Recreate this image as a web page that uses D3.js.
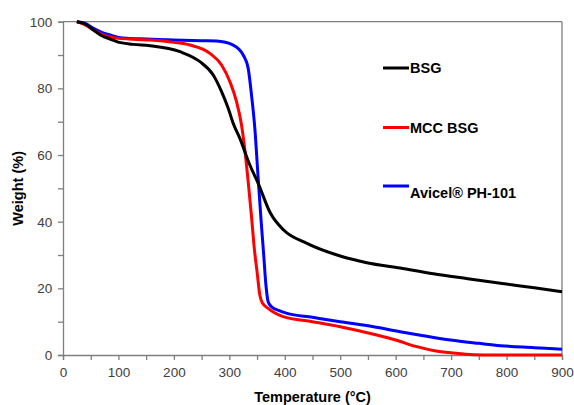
<!DOCTYPE html>
<html>
<head>
<meta charset="utf-8">
<script src="https://cdn.jsdelivr.net/npm/d3@7"></script>
<style>
body{margin:0;background:#fff;}
text{font-family:"Liberation Sans",Arial,sans-serif;}
</style>
</head>
<body>
<svg id="chart" width="574" height="405"></svg>
<script>
// temperature (°C) / weight (%)
var bsgT = [25,40,55,70,85,97,126,157,211,247,271,286,298,307,319,337,352,374,398,440,500,548,608,668,730,789,850,900];
var bsgW = [100,99.3,97.5,95.8,94.8,94,93.2,92.8,91,88,84,79,74,69.5,65,57,51.5,42.6,37.5,33.5,29.7,27.7,26.1,24.4,22.9,21.5,20.2,19];
var mccT = [25,40,55,70,85,100,120,157,200,229,265,286,301,313,322,328,334,340,345,350,355,360,370,380,397,450,500,566,600,638,670,704,740,780,900];
var mccW = [100,99,97.5,96.2,95.4,95,94.8,94.5,93.8,93,90.5,87,82,76,69,61.5,52,41.5,32,25,18,15.5,14,12.8,11.5,10,8.5,6,4.5,2.5,1.3,0.6,0.1,0,0];
var aviT = [25,40,55,70,85,100,115,150,200,250,277,307,325,334,340,346,352,357,362,366,370,376,390,404,450,500,560,608,650,699,750,789,850,900];
var aviW = [100,99.5,98,96.8,96,95.3,95,94.8,94.5,94.3,94.2,93,90,86,78,68,53,41,30,21,16,14.5,13.3,12.5,11.3,10,8.5,7,5.8,4.5,3.5,2.8,2.2,1.7];
var seriesNames = ["BSG","MCC BSG","Avicel® PH-101"];
var seriesColors = ["#000000","#ff0000","#0000ff"];

var svg = d3.select("#chart");
var margin = {top:21.7, left:63, right:12, bottom:50};
var width = 574 - margin.left - margin.right,
    height = 405 - margin.top - margin.bottom;
var axisCol = "#7f7f7f";

var x = d3.scaleLinear().domain([0,900]).range([0,width]);
var y = d3.scaleLinear().domain([0,100]).range([height,0]);

var g = svg.append("g").attr("transform","translate("+margin.left+","+margin.top+")");

// box top and right
g.append("line").attr("x1",0).attr("x2",width).attr("y1",0).attr("y2",0).attr("stroke",axisCol).attr("stroke-width",1.3);
g.append("line").attr("x1",width).attr("x2",width).attr("y1",0).attr("y2",height).attr("stroke",axisCol).attr("stroke-width",1.3);

// major + minor ticks, labels only on majors
var xAxis = d3.axisBottom(x).tickValues(d3.range(0,901,50)).tickSize(5).tickFormat(function(d){return d%100==0?d:"";});
var yAxis = d3.axisLeft(y).tickValues(d3.range(0,101,10)).tickSize(5).tickFormat(function(d){return d%20==0?d:"";});

var gx = g.append("g").attr("transform","translate(0,"+height+")").call(xAxis);
var gy = g.append("g").call(yAxis);
[gx,gy].forEach(function(a){
  a.select(".domain").attr("stroke",axisCol).attr("stroke-width",1.3);
  a.selectAll(".tick line").attr("stroke",axisCol).attr("stroke-width",1.3);
  a.selectAll(".tick text").attr("fill","#404040").style("font-size","13.5px").style("font-family","'Liberation Sans',Arial,sans-serif");
});
gx.selectAll(".tick text").attr("dy","1.05em");
gy.selectAll(".tick text").attr("dx","-0.2em");

var line = d3.line().x(function(d){return x(d[0]);}).y(function(d){return y(d[1]);}).curve(d3.curveMonotoneX);
var series = [d3.zip(bsgT,bsgW), d3.zip(mccT,mccW), d3.zip(aviT,aviW)];
// blue first, then red, black on top
[2,1,0].forEach(function(i){
  g.append("path").datum(series[i]).attr("fill","none").attr("stroke",seriesColors[i])
   .attr("stroke-width",3).attr("stroke-linejoin","round").attr("d",line);
});

// legend
var legY = [68,127.5,186];
var legTextY = [73,132.5,197.5];
seriesNames.forEach(function(n,i){
  svg.append("line").attr("x1",383).attr("x2",409).attr("y1",legY[i]).attr("y2",legY[i])
    .attr("stroke",seriesColors[i]).attr("stroke-width",3);
  svg.append("text").attr("x",410).attr("y",legTextY[i]).text(n)
    .style("font-weight","bold").style("font-size","14.5px").attr("fill","#000");
});

// axis titles
svg.append("text").attr("x",margin.left+width/2).attr("y",402).attr("text-anchor","middle")
  .style("font-weight","bold").style("font-size","14.5px").text("Temperature (°C)");
svg.append("text").attr("transform","translate(23,"+(margin.top+height/2)+") rotate(-90)")
  .attr("text-anchor","middle").style("font-weight","bold").style("font-size","14.5px").text("Weight (%)");
</script>
</body>
</html>
